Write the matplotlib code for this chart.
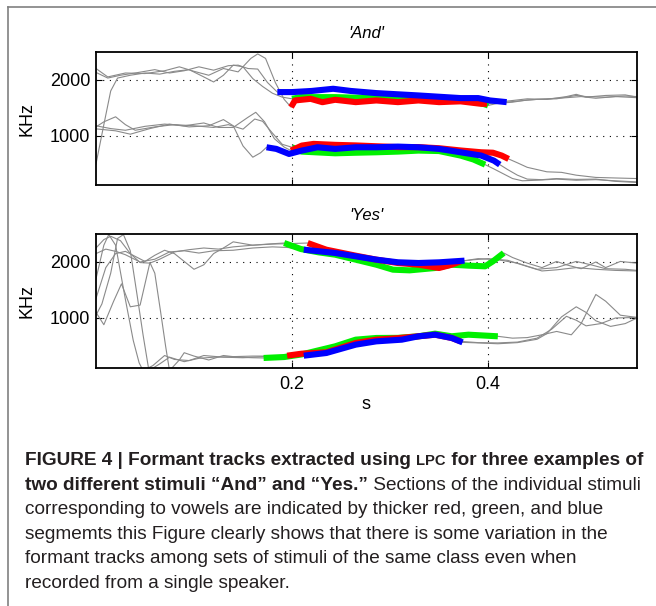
"""Formant tracks (LPC) for 'And' and 'Yes', three examples each, with caption."""
import matplotlib
matplotlib.use('Agg')
import matplotlib.pyplot as plt
from matplotlib.lines import Line2D
from matplotlib import font_manager
import numpy as np

plt.rcParams.update({
    'font.family': ['Liberation Sans', 'DejaVu Sans'],
    'font.size': 13,
})

# ---------------------------------------------------------------
# data: (time s, frequency Hz) per example and formant
# example order is red, green, blue
# ---------------------------------------------------------------
AND_RED_F2 = [(0, 2200), (0.012, 2050), (0.03, 2120), (0.05, 2110), (0.07, 2160), (0.085, 2230),
              (0.1, 2150), (0.115, 2080), (0.13, 2200), (0.145, 2140), (0.158, 2380), (0.165, 2460),
              (0.173, 2380), (0.183, 1950), (0.192, 1650),
              (0.199, 1512), (0.203, 1631), (0.219, 1660), (0.231, 1600), (0.244, 1643), (0.265, 1601),
              (0.286, 1631), (0.308, 1601), (0.329, 1631), (0.35, 1601), (0.372, 1615), (0.393, 1571),
              (0.399, 1570),
              (0.42, 1620), (0.44, 1660), (0.46, 1650), (0.48, 1700), (0.49, 1740), (0.5, 1690),
              (0.52, 1720), (0.54, 1730), (0.552, 1690)]
AND_GREEN_F2 = [(0, 500), (0.008, 1200), (0.015, 1800), (0.022, 2030), (0.035, 2080), (0.05, 2120),
                (0.065, 2100), (0.08, 2150), (0.095, 2180), (0.11, 2050), (0.12, 1960), (0.13, 2080),
                (0.14, 2260), (0.15, 2230), (0.16, 2020), (0.17, 1880), (0.18, 1760), (0.19, 1690),
                (0.2, 1660), (0.209, 1690), (0.244, 1690), (0.265, 1680), (0.286, 1680), (0.308, 1670),
                (0.329, 1643), (0.35, 1650), (0.372, 1631), (0.39, 1600), (0.4, 1542),
                (0.41, 1580), (0.425, 1600), (0.44, 1640), (0.46, 1660), (0.48, 1680), (0.495, 1700),
                (0.51, 1670), (0.53, 1700), (0.552, 1680)]
AND_BLUE_F2 = [(0, 2130), (0.012, 2030), (0.025, 2080), (0.04, 2120), (0.06, 2180), (0.075, 2120),
               (0.09, 2160), (0.105, 2230), (0.12, 2170), (0.135, 2250), (0.145, 2260), (0.155, 2200),
               (0.165, 2190), (0.175, 1950),
               (0.185, 1780), (0.2, 1780), (0.22, 1800), (0.242, 1839), (0.26, 1800), (0.286, 1762),
               (0.329, 1720), (0.372, 1673), (0.39, 1673), (0.402, 1631), (0.419, 1601),
               (0.43, 1620), (0.45, 1650), (0.47, 1660), (0.49, 1720), (0.5, 1700), (0.52, 1690),
               (0.54, 1710), (0.552, 1700)]
AND_RED_F1 = [(0, 1180), (0.015, 1130), (0.03, 1100), (0.05, 1170), (0.07, 1210), (0.09, 1180),
              (0.11, 1230), (0.125, 1150), (0.14, 1150), (0.155, 1330), (0.163, 1420), (0.172, 1250),
              (0.182, 950), (0.192, 800),
              (0.199, 738), (0.21, 827), (0.222, 857), (0.244, 840), (0.265, 830), (0.286, 815),
              (0.308, 800), (0.329, 800), (0.35, 780), (0.372, 740), (0.393, 708), (0.405, 700),
              (0.414, 649), (0.421, 589),
              (0.43, 520), (0.44, 440), (0.45, 400), (0.46, 360), (0.475, 350), (0.49, 300),
              (0.51, 260), (0.53, 250), (0.552, 240)]
AND_GREEN_F1 = [(0, 1160), (0.008, 1250), (0.02, 1340), (0.03, 1200), (0.04, 1100), (0.06, 1160),
                (0.08, 1200), (0.1, 1180), (0.12, 1150), (0.135, 1200), (0.15, 1120), (0.162, 1300),
                (0.17, 1260), (0.18, 1050), (0.19, 850),
                (0.2, 797), (0.21, 720), (0.244, 690), (0.265, 700), (0.286, 708), (0.308, 720),
                (0.329, 738), (0.35, 730), (0.372, 649), (0.385, 580), (0.397, 488),
                (0.405, 420), (0.415, 330), (0.425, 240), (0.435, 200), (0.45, 210), (0.47, 230),
                (0.49, 210), (0.51, 220), (0.53, 200), (0.552, 180)]
AND_BLUE_F1 = [(0, 1125), (0.02, 1090), (0.035, 1030), (0.055, 1130), (0.075, 1210), (0.095, 1160),
               (0.115, 1180), (0.13, 1290), (0.14, 1180), (0.15, 820), (0.16, 620), (0.168, 700),
               (0.174, 797), (0.184, 768), (0.197, 678), (0.21, 738), (0.226, 797), (0.244, 768),
               (0.265, 797), (0.286, 797), (0.308, 809), (0.329, 797), (0.35, 768), (0.372, 708),
               (0.393, 649), (0.406, 559), (0.412, 488),
               (0.42, 400), (0.43, 300), (0.44, 230), (0.455, 220), (0.47, 240), (0.49, 225),
               (0.51, 230), (0.53, 190), (0.552, 170)]

YES_RED_F2 = [(0, 2250), (0.008, 2400), (0.015, 2460), (0.025, 2380), (0.035, 2150), (0.045, 1990),
              (0.055, 1980), (0.065, 2050), (0.08, 2180), (0.095, 2220), (0.11, 2250), (0.125, 2230),
              (0.14, 2270), (0.16, 2300), (0.18, 2320), (0.2, 2330),
              (0.216, 2339), (0.235, 2220), (0.265, 2113), (0.286, 2042), (0.308, 1982), (0.329, 1952),
              (0.35, 1893), (0.363, 1952), (0.372, 2012),
              (0.385, 2040), (0.4, 2060), (0.42, 2030), (0.44, 1920), (0.455, 1840), (0.47, 1860),
              (0.49, 1900), (0.51, 1870), (0.53, 1850), (0.552, 1840)]
YES_GREEN_F2 = [(0, 1350), (0.01, 1900), (0.02, 2150), (0.03, 2190), (0.04, 2100), (0.05, 2010),
                (0.06, 2120), (0.07, 2210), (0.08, 2150), (0.09, 2010), (0.1, 1870), (0.11, 1950),
                (0.12, 2150), (0.13, 2250), (0.14, 2360), (0.15, 2330), (0.16, 2300), (0.175, 2320),
                (0.192, 2339), (0.209, 2232), (0.227, 2173), (0.244, 2131), (0.265, 2042), (0.286, 1952),
                (0.303, 1863), (0.32, 1851), (0.346, 1893), (0.363, 1952), (0.38, 1935), (0.397, 1923),
                (0.405, 2012), (0.416, 2161),
                (0.425, 2080), (0.44, 1980), (0.455, 1900), (0.47, 2010), (0.48, 1950), (0.495, 1880),
                (0.51, 2000), (0.52, 1900), (0.535, 2010), (0.552, 1980)]
YES_BLUE_F2 = [(0, 2150), (0.01, 2230), (0.02, 2190), (0.03, 2130), (0.045, 2000), (0.06, 2050),
               (0.075, 2180), (0.09, 2200), (0.105, 2160), (0.12, 2200), (0.14, 2210), (0.16, 2250),
               (0.18, 2270), (0.195, 2260),
               (0.212, 2220), (0.244, 2161), (0.286, 2042), (0.308, 1995), (0.329, 1982), (0.35, 1994),
               (0.376, 2024),
               (0.39, 2060), (0.41, 2040), (0.43, 1980), (0.45, 1870), (0.47, 1900), (0.49, 2010),
               (0.505, 1950), (0.52, 1880), (0.54, 1870), (0.552, 1850)]
YES_RED_F1 = [(0, 1700), (0.008, 2300), (0.013, 2490), (0.02, 2300), (0.03, 1330), (0.038, 600),
              (0.044, 200), (0.048, 60), (0.058, 150), (0.07, 330), (0.08, 260), (0.095, 240),
              (0.11, 330), (0.13, 300), (0.15, 290), (0.17, 310), (0.185, 320),
              (0.195, 327), (0.21, 363), (0.235, 387), (0.265, 554), (0.286, 613), (0.308, 640),
              (0.329, 673), (0.346, 702), (0.363, 643), (0.372, 583),
              (0.39, 560), (0.41, 555), (0.43, 570), (0.45, 640), (0.465, 800), (0.48, 1030),
              (0.49, 960), (0.5, 860), (0.515, 900), (0.53, 1000), (0.552, 1010)]
YES_GREEN_F1 = [(0, 1100), (0.008, 880), (0.018, 1300), (0.026, 1610), (0.035, 1200), (0.045, 1230),
                (0.055, 1990), (0.06, 1800), (0.066, 1100), (0.071, 500), (0.075, 60), (0.085, 250),
                (0.09, 380), (0.1, 320), (0.115, 250), (0.13, 330), (0.145, 300), (0.16, 290),
                (0.171, 286), (0.192, 303), (0.21, 350), (0.244, 494), (0.265, 613), (0.286, 643),
                (0.308, 645), (0.329, 673), (0.346, 720), (0.363, 673), (0.38, 702), (0.41, 673),
                (0.425, 640), (0.44, 650), (0.455, 700), (0.47, 760), (0.485, 700), (0.495, 900),
                (0.51, 1420), (0.52, 1300), (0.535, 1050), (0.552, 1010)]
YES_BLUE_F1 = [(0, 1050), (0.006, 1250), (0.015, 1800), (0.022, 2420), (0.028, 2490), (0.035, 2200),
               (0.042, 1400), (0.048, 700), (0.054, 60), (0.065, 180), (0.075, 300), (0.09, 220),
               (0.105, 280), (0.12, 300), (0.14, 310), (0.16, 320), (0.18, 320), (0.2, 325),
               (0.212, 327), (0.235, 375), (0.265, 524), (0.286, 583), (0.312, 613), (0.329, 673),
               (0.346, 702), (0.363, 643), (0.374, 565),
               (0.39, 555), (0.41, 540), (0.43, 560), (0.45, 620), (0.46, 720), (0.475, 1020),
               (0.49, 1200), (0.5, 1100), (0.51, 950), (0.525, 850), (0.54, 900), (0.552, 1000)]

# vowel section (start, end) in s, same order as tracks below
AND_VOWEL = [(0.199, 0.399), (0.2, 0.4), (0.185, 0.419),      # F2 red, green, blue
             (0.199, 0.421), (0.2, 0.397), (0.174, 0.412)]    # F1 red, green, blue
YES_VOWEL = [(0.216, 0.372), (0.192, 0.416), (0.212, 0.376),
             (0.195, 0.372), (0.171, 0.41), (0.212, 0.374)]

AND_TRACKS = [AND_RED_F2, AND_GREEN_F2, AND_BLUE_F2, AND_RED_F1, AND_GREEN_F1, AND_BLUE_F1]
YES_TRACKS = [YES_RED_F2, YES_GREEN_F2, YES_BLUE_F2, YES_RED_F1, YES_GREEN_F1, YES_BLUE_F1]
TRACK_COLORS = ['#ff0000', '#00f000', '#0000ff'] * 2

W, H = 656, 606
fig = plt.figure(figsize=(W / 100, H / 100), dpi=100)


def px_axes(left, top, right, bottom):
    return fig.add_axes([left / W, 1 - bottom / H, (right - left) / W, (bottom - top) / H])


def draw_panel(ax, tracks, vowels, title, ylim):
    for tr in tracks:
        t, f = np.array(tr).T
        ax.plot(t, f, color='#8a8a8a', lw=0.8, zorder=2)
    # green under red under blue
    for k in [1, 4, 0, 3, 2, 5]:
        t, f = np.array(tracks[k]).T
        on, off = vowels[k]
        m = (t >= on - 1e-9) & (t <= off + 1e-9)
        ax.plot(t[m], f[m], color=TRACK_COLORS[k], lw=4.4, solid_capstyle='butt',
                solid_joinstyle='round', zorder=3)
    ax.set_xlim(0, 0.552)
    ax.set_ylim(*ylim)
    ax.set_xticks([0.2, 0.4])
    ax.set_yticks([1000, 2000])
    ax.grid(True, color='k', linestyle=(0, (1, 5)), linewidth=0.8)
    ax.set_axisbelow(True)
    ax.tick_params(direction='in', top=True, right=True, length=4, width=0.8,
                   labelsize=13, pad=4)
    for s in ax.spines.values():
        s.set_linewidth(1.3)
    ax.set_ylabel('KHz', fontsize=13)
    ax.yaxis.set_label_coords(-0.111, 0.5)
    ax.annotate(title, xy=(0.5, 1), xycoords='axes fraction', xytext=(0, 13),
                textcoords='offset points', ha='center', va='center',
                fontsize=12, style='italic')


ax1 = px_axes(96, 52, 637, 185)
draw_panel(ax1, AND_TRACKS, AND_VOWEL, "'And'", (125, 2494))
ax1.tick_params(labelbottom=False)

ax2 = px_axes(96, 234, 637, 368)
draw_panel(ax2, YES_TRACKS, YES_VOWEL, "'Yes'", (107, 2500))
ax2.xaxis.set_tick_params(pad=6)
ax2.set_xlabel('s', fontsize=13)
ax2.xaxis.set_label_coords(0.5, -0.21)

# open grey frame around the figure
fig.add_artist(Line2D([8 / W, 1], [1 - 7 / H, 1 - 7 / H], color='#808080', lw=1.2))
fig.add_artist(Line2D([8 / W, 8 / W], [0, 1 - 7 / H], color='#808080', lw=1.2))

# caption: condensed face if one is installed, else the regular one
cap_family = ['Liberation Sans', 'DejaVu Sans']
for cand in ['Liberation Sans Narrow', 'DejaVu Sans Condensed']:
    try:
        font_manager.findfont(font_manager.FontProperties(family=cand), fallback_to_default=False)
        cap_family = [cand, 'Liberation Sans']
        break
    except ValueError:
        pass

caption = [
    [("FIGURE 4 | Formant tracks extracted using ", 'bold', 1.0), ("LPC", 'bold', 0.78),
     (" for three examples of", 'bold', 1.0)],
    [("two different stimuli \u201cAnd\u201d and \u201cYes.\u201d", 'bold', 1.0),
     (" Sections of the individual stimuli", 'normal', 1.0)],
    [("corresponding to vowels are indicated by thicker red, green, and blue", 'normal', 1.0)],
    [("segmemts this Figure clearly shows that there is some variation in the", 'normal', 1.0)],
    [("formant tracks among sets of stimuli of the same class even when", 'normal', 1.0)],
    [("recorded from a single speaker.", 'normal', 1.0)],
]
renderer = fig.canvas.get_renderer()


def draw_line(pieces, x, y, size):
    texts = []
    for txt, weight, rel in pieces:
        t = fig.text(x / W, 1 - y / H, txt, fontsize=size * rel, fontweight=weight,
                     family=cap_family, color='#231f20', ha='left', va='baseline')
        x += t.get_window_extent(renderer).width
        texts.append(t)
    return texts, x


# size the caption so the first (widest) line runs from x=25 to x=644
probe, right = draw_line(caption[0], 25, 465, 14)
for t in probe:
    t.remove()
cap_size = 14 * (644 - 25) / (right - 25)

for i, line in enumerate(caption):
    draw_line(line, 25, 465 + i * 24.6, cap_size)

fig.savefig('out.png', dpi=100)
